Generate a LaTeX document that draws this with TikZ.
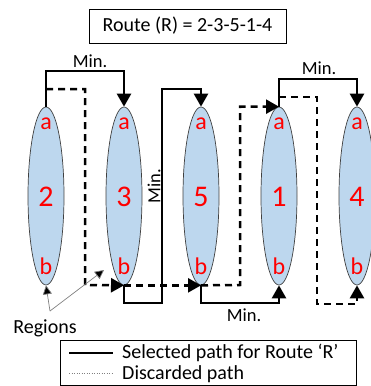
\documentclass[tikz,border=0pt]{standalone}
\usepackage{fontspec}
\setmainfont{Carlito}
\usetikzlibrary{shapes.geometric,arrows.meta}
\definecolor{regfill}{HTML}{BDD7EE}
\definecolor{regline}{HTML}{404040}
\begin{document}
\begin{tikzpicture}[x=1pt,y=-1pt,
  region/.style={ellipse, draw=regline, line width=0.7pt, fill=regfill, minimum width=36pt, minimum height=178pt, inner sep=0pt},
  lbl/.style={text=red, font=\fontsize{24}{24}\selectfont, inner sep=0pt},
  num/.style={text=red, font=\fontsize{30}{30}\selectfont, inner sep=0pt},
  sel/.style={line width=2.5pt, -{Triangle[length=13pt,width=14pt]}},
  disc/.style={line width=2.5pt, dash pattern=on 7pt off 5pt, -{Triangle[length=13pt,width=14pt]}},
  txt/.style={font=\fontsize{20}{22}\selectfont, inner sep=0pt},
  minl/.style={font=\fontsize{18.5}{20}\selectfont, inner sep=0pt}]
\useasboundingbox (0,0) rectangle (370,386);
% regions
\node[region] (e2) at (46,196) {};
\node[region] (e3) at (124,196) {};
\node[region] (e5) at (201,196) {};
\node[region] (e1) at (279,196) {};
\node[region] (e4) at (357,196) {};
\foreach \n/\x/\t in {e2/46/2,e3/124/3,e5/201/5,e1/279/1,e4/357/4}{
  \node[lbl] (\n a) at (\x,124) {a};
  \node[lbl] (\n b) at (\x,266) {b};
  \node[num] (\n n) at (\x,197) {\t};
}
% title
\node[draw, line width=0.8pt, minimum width=197pt, minimum height=34pt, txt] (title) at (187.5,26) {Route (R) = 2-3-5-1-4};
% discarded (dashed) paths
\draw[disc] (46,89) -- (85,89) -- (85,285) -- (e3.south);
\draw[disc] (e3.south) -- (e5.south);
\draw[disc] (e5.south) -- (240,285) |- (e1.north);
\draw[disc] (279,97) -- (317,97) -- (317,304) -| (e4.south);
% selected (solid) paths
\draw[sel] (e2.north) -- (46,71) -| (e3.north);
\draw[sel] (e3.south) -- (124,303) -- (162,303) -- (162,89) -| (e5.north);
\draw[sel] (e5.south) -- (201,303) -| (e1.south);
\draw[sel] (e1.north) -- (279,79) -| (e4.north);
% Min. labels
\node[minl] (m1) at (90,61) {Min.};
\node[minl] (m2) at (319,68) {Min.};
\node[minl] (m3) at (244,315) {Min.};
\node[minl, rotate=90] (m4) at (154,186) {Min.};
% regions annotation
\node[txt] (regions) at (45,328) {Regions};
\coordinate (rc) at (50,311);
\coordinate (rt) at (104,270);
\draw[gray, line width=0.7pt, -{Triangle[length=9pt,width=9pt,fill=black]}] (rc) -- (e2.south);
\draw[gray, line width=0.7pt, -{Triangle[length=9pt,width=9pt,fill=black]}] (rc) -- (rt);
% legend
\node[draw, line width=0.8pt, minimum width=296pt, minimum height=45pt, inner sep=0pt] (legend) at (208,362.5) {};
\coordinate (l1a) at (69,353); \coordinate (l1b) at (113,353);
\coordinate (l2a) at (69,373); \coordinate (l2b) at (113,373);
\draw[line width=2.5pt] (l1a) -- (l1b);
\draw[gray, line width=0.5pt, dotted] (l2a) -- (l2b);
\node[txt, anchor=west] (ls) at (122,353) {Selected path for Route ‘R’};
\node[txt, anchor=west] (ld) at (122,374) {Discarded path};
\end{tikzpicture}
\end{document}
